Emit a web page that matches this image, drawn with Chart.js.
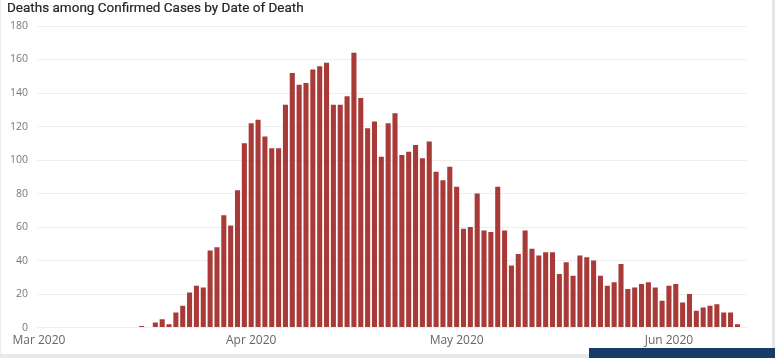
<!DOCTYPE html>
<html>
<head>
<meta charset="utf-8">
<script src="https://cdn.jsdelivr.net/npm/chart.js@4/dist/chart.umd.min.js"></script>
<style>
  html, body { margin:0; padding:0; background:#fff; }
  body { width:775px; height:358px; position:relative; overflow:hidden; }
  #title { position:absolute; left:7px; top:-1px; font-family:Roboto, sans-serif; font-size:13.5px; color:#252423; white-space:nowrap; -webkit-text-stroke:0.2px #252423; }
  #wrap { position:absolute; left:0; top:0; width:775px; height:354px; }
  #rightbar { position:absolute; left:772px; top:0; width:3px; height:358px; background:#e6e6e6; }
  #bottombar { position:absolute; left:0; top:354px; width:775px; height:4px; background:#e9e9e9; }
  #navy { position:absolute; left:589px; top:348px; width:186px; height:10px; background:#173a68; }
  #leftbar { position:absolute; left:0; top:0; width:1px; height:358px; background:#eeeeee; }
</style>
</head>
<body>
<div id="wrap"><canvas id="c" width="775" height="354"></canvas></div>
<div id="title">Deaths among Confirmed Cases by Date of Death</div>
<div id="leftbar"></div>
<div id="rightbar"></div>
<div id="bottombar"></div>
<div id="navy"></div>
<script>
// Daily deaths, one value per day starting 2020-03-01
const startDate = '2020-03-01';
const deaths = [
  0,0,0,0,0,0,0,0,0,0,0,0,0,0,0,      // Mar 1-15
  1,0,3,5,2,9,13,21,25,24,46,48,67,61,82,110, // Mar 16-31
  122,124,114,107,107,133,152,145,146,154,156,158,133,133,138,164,137,119,123,102,122,128,103,105,109,101,111,93,88,96, // Apr
  84,59,60,80,58,57,84,58,37,44,58,47,43,45,45,32,39,31,43,42,40,31,25,27,38,23,24,26,27,24,16, // May
  25,26,15,20,10,12,13,14,9,9,2        // Jun 1-11
];
const tickDates = ['2020-03-01','2020-04-01','2020-05-01','2020-06-01'];
const tickLabels = ['Mar 2020','Apr 2020','May 2020','Jun 2020'];
const yTicks = [0,20,40,60,80,100,120,140,160,180];

const DAY = 86400000;
const t0 = Date.parse(startDate + 'T00:00:00Z');
const dayIndex = s => Math.round((Date.parse(s + 'T00:00:00Z') - t0) / DAY);
const categories = deaths.map((_, i) => new Date(t0 + i * DAY).toISOString().slice(0,10));
const points = categories.map((d, i) => ({ x: dayIndex(d), y: deaths[i] }));
const tickPos = tickDates.map(dayIndex);

new Chart(document.getElementById('c'), {
  type: 'bar',
  data: {
    datasets: [{
      data: points,
      backgroundColor: '#a83a38',
      borderWidth: 0,
      barPercentage: 0.74,
      categoryPercentage: 1.0
    }]
  },
  options: {
    responsive: false,
    animation: false,
    layout: { padding: { left: 0, right: 28, top: 26, bottom: 0 } },
    plugins: { legend: { display: false }, tooltip: { enabled: false }, title: { display: false } },
    scales: {
      x: {
        type: 'linear',
        min: -0.28,
        max: 103.4,
        offset: false,
        grid: { display: false, drawTicks: false },
        border: { display: false },
        afterBuildTicks: s => { s.ticks = tickPos.map(v => ({ value: v })); },
        ticks: {
          autoSkip: false,
          maxRotation: 0,
          padding: 6,
          color: '#666666',
          font: { family: '"Open Sans", sans-serif', size: 12 },
          callback: (v) => { const k = tickPos.indexOf(v); return k >= 0 ? tickLabels[k] : ''; }
        }
      },
      y: {
        min: 0,
        max: 180,
        afterBuildTicks: s => { s.ticks = yTicks.map(v => ({ value: v })); },
        afterFit: s => { s.width = 37; },
        grid: { color: '#efefef', lineWidth: 1, drawTicks: false },
        border: { display: false },
        ticks: {
          padding: 9,
          color: '#777777',
          font: { family: '"Open Sans", sans-serif', size: 10.5 }
        }
      }
    }
  }
});
</script>
</body>
</html>
